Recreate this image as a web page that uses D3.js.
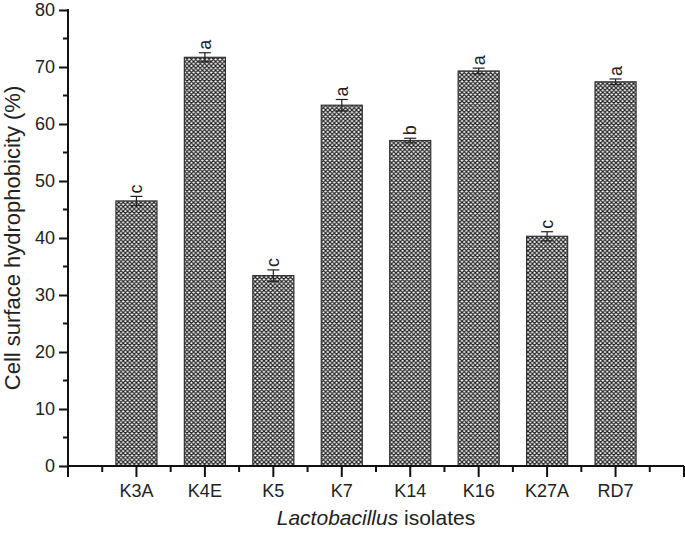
<!DOCTYPE html>
<html><head><meta charset="utf-8">
<script src="https://cdn.jsdelivr.net/npm/d3@7"></script>
<style>body{margin:0;background:#fff}text{font-family:"Liberation Sans",Arial,sans-serif;fill:#222}</style>
</head><body>
<svg id="c" width="685" height="533"></svg>
<script>
const categories = ["K3A","K4E","K5","K7","K14","K16","K27A","RD7"];
const values = [46.5, 71.7, 33.4, 63.3, 57.1, 69.3, 40.3, 67.4];
const errors = [0.8, 0.8, 1.0, 1.0, 0.4, 0.5, 0.8, 0.5];
const letters = ["c","a","c","a","b","a","c","a"];
const yTicks = [0,10,20,30,40,50,60,70,80];

const svg = d3.select("#c");
const x0 = 68, x1 = 684, yTop = 10, yBot = 466;
const x = d3.scaleLinear().domain([0, categories.length + 1]).range([x0, x1]);
const y = d3.scaleLinear().domain([0, 80]).range([yBot, yTop]);
const bw = 0.6 * (x(1) - x(0));

const defs = svg.append("defs");
const P = 4.4;
const pat = defs.append("pattern").attr("id","hatch").attr("patternUnits","userSpaceOnUse")
  .attr("width",P).attr("height",P);
pat.append("rect").attr("width",P).attr("height",P).attr("fill","#fff");
pat.append("path").attr("d",`M0,0L${P},${P}M${P},0L0,${P}M-1,1L1,-1M${P-1},${P+1}L${P+1},${P-1}M-1,${P-1}L1,${P+1}M${P-1},-1L${P+1},1`)
  .attr("stroke","#222").attr("stroke-width",1.2);

// bars
svg.selectAll("rect.bar").data(values).join("rect").attr("class","bar")
  .attr("x",(d,i)=>x(i+1)-bw/2).attr("y",d=>y(d))
  .attr("width",bw).attr("height",d=>y(0)-y(d))
  .attr("fill","url(#hatch)").attr("stroke","#333").attr("stroke-width",1.2);

// error bars
const eg = svg.append("g").attr("stroke","#222").attr("stroke-width",1.2);
values.forEach((v,i)=>{
  const cx = x(i+1);
  eg.append("line").attr("x1",cx).attr("x2",cx).attr("y1",y(v-errors[i])).attr("y2",y(v+errors[i]));
  eg.append("line").attr("x1",cx-6).attr("x2",cx+6).attr("y1",y(v+errors[i])).attr("y2",y(v+errors[i]));
  eg.append("line").attr("x1",cx-6).attr("x2",cx+6).attr("y1",y(v-errors[i])).attr("y2",y(v-errors[i]));
});

// letters
values.forEach((v,i)=>{
  const cx = x(i+1), ty = y(v+errors[i]) - 3;
  svg.append("text").attr("transform",`translate(${cx+6},${ty}) rotate(-90)`)
    .attr("font-size",18).attr("text-anchor","start").text(letters[i]);
});

// y axis
const yAxis = d3.axisLeft(y).tickValues(yTicks).tickSize(9).tickPadding(4);
const gy = svg.append("g").attr("transform",`translate(${x0},0)`).call(yAxis);
gy.select(".domain").remove();
gy.selectAll("line").attr("stroke","#111").attr("stroke-width",2);
gy.selectAll("text").attr("font-size",18).style("fill","#222").attr("font-family","Liberation Sans, Arial, sans-serif");
const minorY = d3.range(5, 80, 10);
svg.append("g").selectAll("line").data(minorY).join("line")
  .attr("x1",x0-5).attr("x2",x0).attr("y1",d=>y(d)).attr("y2",d=>y(d))
  .attr("stroke","#111").attr("stroke-width",2);
svg.append("line").attr("x1",x0).attr("x2",x0).attr("y1",yTop-1).attr("y2",yBot+11)
  .attr("stroke","#111").attr("stroke-width",2);

// x axis
const majorX = d3.range(0, categories.length + 2);
const minorX = d3.range(0, categories.length + 1).map(d=>d+0.5);
svg.append("line").attr("x1",x0).attr("x2",x1).attr("y1",yBot).attr("y2",yBot)
  .attr("stroke","#111").attr("stroke-width",2);
svg.append("g").selectAll("line").data(majorX).join("line")
  .attr("x1",d=>x(d)).attr("x2",d=>x(d)).attr("y1",yBot).attr("y2",yBot+11)
  .attr("stroke","#111").attr("stroke-width",2);
svg.append("g").selectAll("line").data(minorX).join("line")
  .attr("x1",d=>x(d)).attr("x2",d=>x(d)).attr("y1",yBot).attr("y2",yBot+6)
  .attr("stroke","#111").attr("stroke-width",2);
svg.append("g").selectAll("text").data(categories).join("text")
  .attr("x",(d,i)=>x(i+1)).attr("y",497).attr("text-anchor","middle")
  .attr("font-size",18).text(d=>d);

// axis titles
const xt = svg.append("text").attr("x",(x0+x1)/2).attr("y",525).attr("text-anchor","middle").attr("font-size",21);
xt.append("tspan").attr("font-style","italic").text("Lactobacillus");
xt.append("tspan").text(" isolates");
svg.append("text").attr("transform",`translate(20,${(yTop+yBot)/2}) rotate(-90)`).attr("text-anchor","middle")
  .attr("font-size",22).text("Cell surface hydrophobicity (%)");
</script>
</body></html>
